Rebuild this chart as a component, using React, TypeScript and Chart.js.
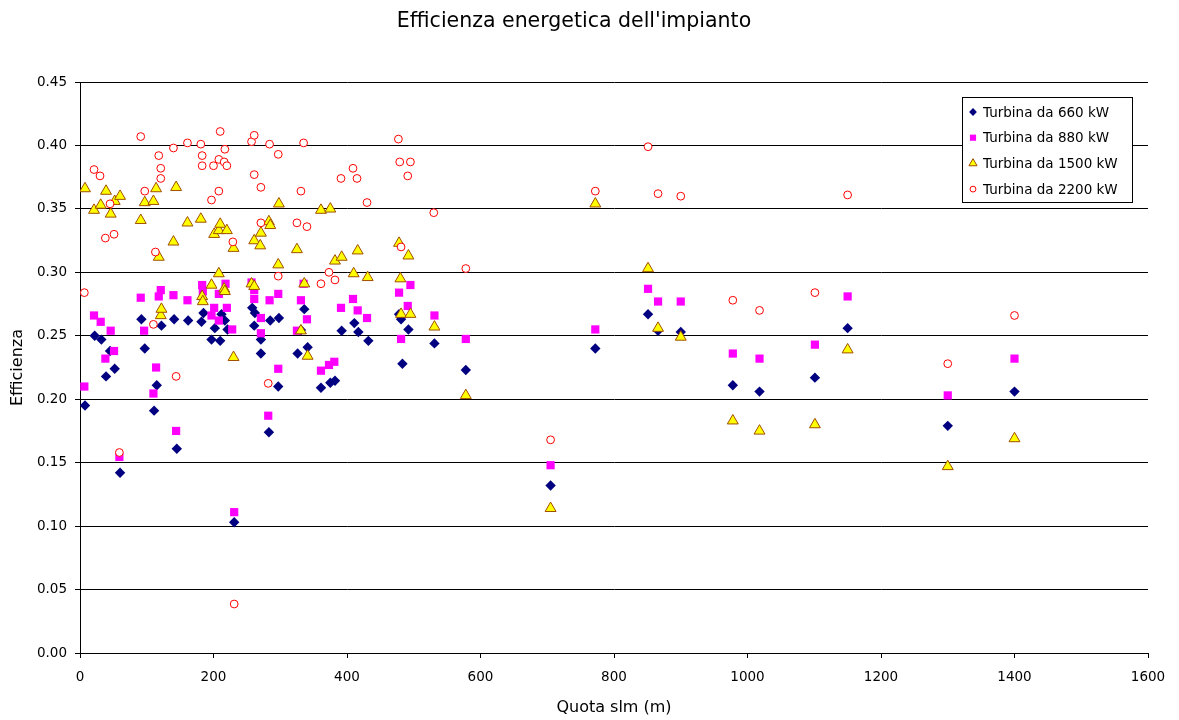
import React, { useEffect, useRef } from "react";
import { Chart, registerables } from "chart.js";
import { drawPoint } from "chart.js/helpers";

Chart.register(...registerables);

const chartTitle = "Efficienza energetica dell'impianto";
const xTitle = "Quota slm (m)";
const yTitle = "Efficienza";

const seriesLabels = [
  "Turbina da 660 kW",
  "Turbina da 880 kW",
  "Turbina da 1500 kW",
  "Turbina da 2200 kW",
];

// Altitude (m) and efficiency for each turbine size
const quota660 = [7.5, 22, 32, 39, 45, 52, 60, 92, 97, 111, 115, 122, 141, 145, 162, 182, 185, 197, 202, 210, 212, 217, 221, 231, 258, 261, 262, 271, 271, 283, 285, 297, 298, 326, 331, 336, 341, 361, 375, 382, 392, 411, 417, 432, 478, 481, 483, 492, 531, 578, 705, 772, 851, 866, 900, 978, 1018, 1101, 1150, 1300, 1400];
const eff660 = [0.195, 0.25, 0.247, 0.218, 0.238, 0.224, 0.142, 0.263, 0.24, 0.191, 0.211, 0.258, 0.263, 0.161, 0.262, 0.261, 0.268, 0.247, 0.256, 0.246, 0.267, 0.262, 0.255, 0.103, 0.272, 0.258, 0.268, 0.247, 0.236, 0.174, 0.262, 0.21, 0.264, 0.236, 0.2545, 0.271, 0.241, 0.209, 0.213, 0.2145, 0.254, 0.26, 0.253, 0.246, 0.267, 0.263, 0.228, 0.255, 0.244, 0.223, 0.132, 0.24, 0.267, 0.254, 0.253, 0.211, 0.206, 0.217, 0.256, 0.179, 0.206];

const quota880 = [6.5, 21, 31, 38, 46, 51, 59, 91, 96, 110, 114, 118, 121, 140, 144, 161, 183, 184, 197, 201, 208, 208, 218, 220, 228, 231, 257, 261, 261, 271, 271, 282, 284, 297, 297, 325, 331, 335, 340, 361, 373, 381, 391, 409, 416, 430, 478, 481, 491, 495, 531, 578, 705, 772, 851, 866, 900, 978, 1018, 1101, 1150, 1300, 1400];
const eff880 = [0.21, 0.266, 0.261, 0.232, 0.254, 0.238, 0.1545, 0.28, 0.254, 0.2045, 0.225, 0.281, 0.286, 0.282, 0.175, 0.278, 0.29, 0.285, 0.266, 0.272, 0.262, 0.283, 0.291, 0.272, 0.255, 0.111, 0.292, 0.286, 0.279, 0.264, 0.252, 0.187, 0.278, 0.283, 0.224, 0.254, 0.278, 0.291, 0.263, 0.2225, 0.227, 0.2295, 0.272, 0.279, 0.27, 0.264, 0.284, 0.2475, 0.2735, 0.29, 0.266, 0.2475, 0.148, 0.255, 0.287, 0.277, 0.277, 0.236, 0.232, 0.243, 0.281, 0.203, 0.232];

const quota1500 = [7.5, 21, 31, 39, 46, 52, 60, 91, 97, 110, 114, 118, 121, 122, 140, 144, 161, 181, 183, 184, 197, 201, 208, 208, 210, 216, 217, 220, 230, 230, 257, 261, 261, 270, 271, 283, 285, 297, 298, 325, 331, 336, 341, 361, 375, 382, 392, 410, 416, 431, 478, 480, 481, 492, 495, 531, 578, 705, 772, 851, 866, 900, 978, 1018, 1101, 1150, 1300, 1400];
const eff1500 = [0.366, 0.349, 0.353, 0.364, 0.346, 0.356, 0.36, 0.341, 0.355, 0.356, 0.366, 0.312, 0.266, 0.271, 0.324, 0.367, 0.339, 0.342, 0.281, 0.277, 0.29, 0.33, 0.299, 0.333, 0.338, 0.287, 0.285, 0.333, 0.319, 0.233, 0.291, 0.289, 0.325, 0.321, 0.331, 0.34, 0.337, 0.306, 0.354, 0.318, 0.254, 0.291, 0.234, 0.349, 0.35, 0.309, 0.312, 0.299, 0.317, 0.296, 0.323, 0.295, 0.267, 0.313, 0.267, 0.257, 0.203, 0.114, 0.354, 0.303, 0.256, 0.249, 0.183, 0.175, 0.18, 0.239, 0.147, 0.169];

const quota2200 = [6.5, 21, 30, 38, 45, 51, 59, 91, 97, 110, 113, 118, 121, 121, 140, 144, 161, 181, 183, 183, 197, 200, 208, 208, 210, 216, 217, 220, 229, 231, 257, 261, 261, 271, 271, 282, 284, 297, 297, 325, 331, 335, 340, 361, 373, 382, 391, 409, 415, 430, 477, 479, 481, 491, 495, 530, 578, 705, 772, 851, 866, 900, 978, 1018, 1101, 1150, 1300, 1400];
const eff2200 = [0.284, 0.381, 0.376, 0.327, 0.354, 0.33, 0.158, 0.407, 0.364, 0.259, 0.316, 0.392, 0.382, 0.374, 0.398, 0.218, 0.402, 0.401, 0.392, 0.384, 0.357, 0.384, 0.389, 0.364, 0.411, 0.387, 0.397, 0.384, 0.324, 0.0386, 0.403, 0.408, 0.377, 0.367, 0.339, 0.2125, 0.401, 0.393, 0.297, 0.339, 0.364, 0.402, 0.336, 0.291, 0.3, 0.294, 0.374, 0.382, 0.374, 0.355, 0.405, 0.387, 0.32, 0.376, 0.387, 0.347, 0.303, 0.168, 0.364, 0.399, 0.362, 0.36, 0.278, 0.27, 0.284, 0.361, 0.228, 0.266];

const FONT = "'DejaVu Sans', Verdana, sans-serif";

function zip(xs: number[], ys: number[]) {
  return xs.map((x, i) => ({ x, y: ys[i] }));
}

type MarkerStyle = {
  pointStyle: string;
  radius: number;
  backgroundColor: string;
  borderColor: string;
  borderWidth: number;
};

const markers: MarkerStyle[] = [
  { pointStyle: "rectRot", radius: 5.2, backgroundColor: "#000080", borderColor: "#000080", borderWidth: 0 },
  { pointStyle: "rect", radius: 5.8, backgroundColor: "#FF00FF", borderColor: "#FF00FF", borderWidth: 0 },
  { pointStyle: "triangle", radius: 6.3, backgroundColor: "#FFFF00", borderColor: "#A04E00", borderWidth: 1 },
  { pointStyle: "circle", radius: 3.9, backgroundColor: "#FFFFFF", borderColor: "#FF0000", borderWidth: 1 },
];

// Framed legend in the top-right corner of the plot area
const boxLegend = {
  id: "boxLegend",
  afterDatasetsDraw(chart: any) {
    const { ctx, chartArea } = chart;
    const w = 170;
    const h = 105;
    const x0 = chartArea.right - 16 - w;
    const y0 = chartArea.top + 15;
    ctx.save();
    ctx.fillStyle = "#FFFFFF";
    ctx.fillRect(x0, y0, w, h);
    ctx.strokeStyle = "#000000";
    ctx.lineWidth = 1;
    ctx.strokeRect(x0 + 0.5, y0 + 0.5, w, h);
    ctx.font = `13.5px ${FONT}`;
    ctx.textBaseline = "middle";
    ctx.textAlign = "left";
    seriesLabels.forEach((label, i) => {
      const cy = y0 + 15 + i * 25.7;
      const m = markers[i];
      ctx.fillStyle = m.backgroundColor;
      ctx.strokeStyle = m.borderColor;
      ctx.lineWidth = m.borderWidth || 1;
      drawPoint(ctx, { pointStyle: m.pointStyle as any, radius: m.radius * 0.75, rotation: 0, borderWidth: m.borderWidth }, x0 + 11, cy);
      ctx.fillStyle = "#000000";
      ctx.fillText(label, x0 + 21, cy + 1);
    });
    ctx.restore();
  },
};

export default function App() {
  const canvasRef = useRef<HTMLCanvasElement | null>(null);

  useEffect(() => {
    if (!canvasRef.current) return;
    const data = [
      zip(quota660, eff660),
      zip(quota880, eff880),
      zip(quota1500, eff1500),
      zip(quota2200, eff2200),
    ];
    const chart = new Chart(canvasRef.current, {
      type: "scatter",
      data: {
        datasets: data.map((pts, i) => ({
          label: seriesLabels[i],
          data: pts,
          order: 4 - i,
          pointStyle: markers[i].pointStyle as any,
          pointRadius: markers[i].radius,
          pointHoverRadius: markers[i].radius,
          pointBackgroundColor: markers[i].backgroundColor,
          pointBorderColor: markers[i].borderColor,
          pointBorderWidth: markers[i].borderWidth,
          showLine: false,
        })),
      },
      options: {
        animation: false,
        responsive: false,
        layout: { padding: { left: 0, right: 31, top: 0, bottom: 0 } },
        plugins: {
          legend: { display: false },
          tooltip: { enabled: false },
          title: {
            display: true,
            text: chartTitle,
            color: "#000000",
            font: { family: FONT, size: 20.5, weight: "normal" },
            padding: { top: 9, bottom: 48.4 },
          },
        },
        scales: {
          x: {
            type: "linear",
            min: 0,
            max: 1600,
            ticks: {
              stepSize: 200,
              color: "#000000",
              font: { family: FONT, size: 13.5 },
              padding: 11,
              maxRotation: 0,
              callback: (v: any) => String(v),
            },
            grid: {
              display: true,
              drawOnChartArea: false,
              drawTicks: true,
              tickLength: 5,
              color: "#000000",
            },
            border: { display: true, color: "#000000", width: 1 },
            title: {
              display: true,
              text: xTitle,
              color: "#000000",
              font: { family: FONT, size: 16 },
              padding: { top: 0, bottom: 3 },
            },
            afterFit(scale: any) {
              scale.height = 67;
            },
          },
          y: {
            type: "linear",
            min: 0,
            max: 0.45,
            ticks: {
              stepSize: 0.05,
              color: "#000000",
              font: { family: FONT, size: 13.5 },
              padding: 8,
              callback: (v: any) => Number(v).toFixed(2),
            },
            grid: {
              display: true,
              drawOnChartArea: true,
              drawTicks: true,
              tickLength: 5,
              color: "#000000",
              lineWidth: 1,
            },
            border: { display: true, color: "#000000", width: 1 },
            title: {
              display: true,
              text: yTitle,
              color: "#000000",
              font: { family: FONT, size: 16 },
              padding: { top: 8, bottom: 0 },
            },
            afterFit(scale: any) {
              scale.width = 80;
            },
          },
        },
      },
      plugins: [boxLegend],
    });
    return () => chart.destroy();
  }, []);

  return (
    <div style={{ position: "absolute", left: 0, top: 0, width: 1179, height: 720, background: "#FFFFFF" }}>
      <canvas ref={canvasRef} width={1179} height={720} />
    </div>
  );
}
